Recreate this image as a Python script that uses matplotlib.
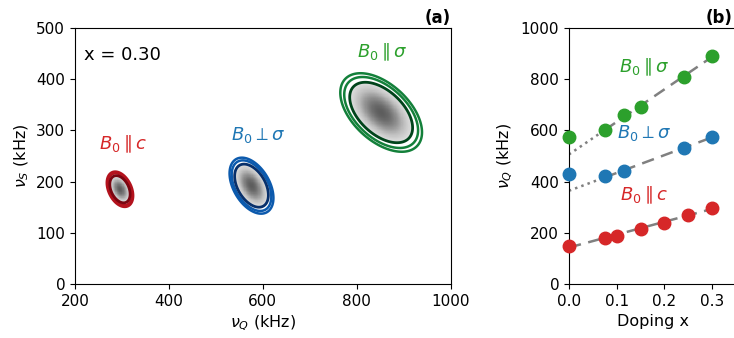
import numpy as np
import matplotlib
matplotlib.use('Agg')
import matplotlib.pyplot as plt

# panel (a): peak positions of the 2D spectra at x = 0.30 (kHz)
peak_names = ['c', 'perp', 'sigma']
peak_nuQ = [296, 576, 852]
peak_nuS = [185, 192, 335]
peak_sig_major = [17, 28, 46]
peak_sig_minor = [11, 17, 26]
peak_angle = [-60, -55, -38]   # degrees
outer_colors = ['#b3121d', '#0c5aad', '#13803a']
inner_colors = ['#7a0510', '#08306b', '#00441b']

# panel (b): nu_Q vs doping
x_sigma = [0.0, 0.075, 0.115, 0.15, 0.24, 0.30]
nu_sigma = [575, 600, 660, 690, 810, 890]
x_perp = [0.0, 0.075, 0.115, 0.24, 0.30]
nu_perp = [428, 420, 440, 530, 575]
x_c = [0.0, 0.075, 0.10, 0.15, 0.20, 0.25, 0.30]
nu_c = [148, 180, 187, 215, 240, 270, 297]

green = '#2ca02c'
blue = '#1f77b4'
red = '#d62728'

plt.rcParams['font.size'] = 11.5
plt.rcParams['xtick.labelsize'] = 11
plt.rcParams['ytick.labelsize'] = 11

fig = plt.figure(figsize=(7.34, 3.38), dpi=100)
ax1 = fig.add_axes([0.102, 0.160, 0.512, 0.757])
ax2 = fig.add_axes([0.775, 0.160, 0.228, 0.757])

# --- panel (a)
gx = np.linspace(200, 1000, 700)
gy = np.linspace(0, 500, 450)
X, Y = np.meshgrid(gx, gy)
for i in range(len(peak_names)):
    th = np.deg2rad(peak_angle[i])
    dx = X - peak_nuQ[i]
    dy = Y - peak_nuS[i]
    u = dx * np.cos(th) + dy * np.sin(th)
    v = -dx * np.sin(th) + dy * np.cos(th)
    Z = np.exp(-0.5 * ((u / peak_sig_major[i])**2 + (v / peak_sig_minor[i])**2))
    Zm = np.ma.masked_less(Z, 0.25)
    ax1.pcolormesh(X, Y, Zm, cmap='Greys', vmin=-0.1, vmax=1.45, shading='auto', rasterized=True)
    ax1.contour(X, Y, Z, levels=[0.09, 0.14], colors=[outer_colors[i]], linewidths=1.8)
    ax1.contour(X, Y, Z, levels=[0.24], colors=[inner_colors[i]], linewidths=2.0)

ax1.set_xlim(200, 1000)
ax1.set_ylim(0, 500)
ax1.set_xticks([200, 400, 600, 800, 1000])
ax1.set_yticks([0, 100, 200, 300, 400, 500])
ax1.set_xlabel(r'$\nu_Q$ (kHz)')
ax1.set_ylabel(r'$\nu_S$ (kHz)')
ax1.text(0.025, 0.93, 'x = 0.30', transform=ax1.transAxes, fontsize=13, va='top')
ax1.text(302, 264, r'$B_0\parallel c$', color=red, fontsize=13, ha='center')
ax1.text(590, 281, r'$B_0\perp\sigma$', color=blue, fontsize=13, ha='center')
ax1.text(855, 443, r'$B_0\parallel\sigma$', color=green, fontsize=13, ha='center')
ax1.text(1.0, 1.02, '(a)', transform=ax1.transAxes, fontsize=12, fontweight='bold', ha='right')

# --- panel (b)
xs = np.array(x_sigma); ys = np.array(nu_sigma)
xp = np.array(x_perp); yp = np.array(nu_perp)
xc = np.array(x_c); yc = np.array(nu_c)

fs = np.polyfit(xs[1:], ys[1:], 1)
fp = np.polyfit(xp[1:], yp[1:], 1)
fc = np.polyfit(xc, yc, 1)

for f in (fs, fp):
    ax2.plot([0.075, 0.30], np.polyval(f, [0.075, 0.30]), '--', color='gray', lw=1.8, dashes=(5, 3))
    ax2.plot([0.0, 0.075], np.polyval(f, [0.0, 0.075]), ':', color='gray', lw=1.8)
ax2.plot([0.0, 0.30], np.polyval(fc, [0.0, 0.30]), '--', color='gray', lw=1.8, dashes=(5, 3))

ax2.plot(xs, ys, 'o', color=green, ms=9, clip_on=False, zorder=3)
ax2.plot(xp, yp, 'o', color=blue, ms=9, clip_on=False, zorder=3)
ax2.plot(xc, yc, 'o', color=red, ms=9, clip_on=False, zorder=3)

ax2.set_xlim(0, 0.35)
ax2.set_ylim(0, 1000)
ax2.set_xticks([0.0, 0.1, 0.2, 0.3])
ax2.set_xlabel('Doping x')
ax2.set_ylabel(r'$\nu_Q$ (kHz)')
ax2.text(0.157, 828, r'$B_0\parallel\sigma$', color=green, fontsize=13, ha='center')
ax2.text(0.157, 570, r'$B_0\perp\sigma$', color=blue, fontsize=13, ha='center')
ax2.text(0.157, 328, r'$B_0\parallel c$', color=red, fontsize=13, ha='center')
ax2.text(0.978, 1.02, '(b)', transform=ax2.transAxes, fontsize=12, fontweight='bold', ha='right')

fig.savefig('out.png', dpi=100)
